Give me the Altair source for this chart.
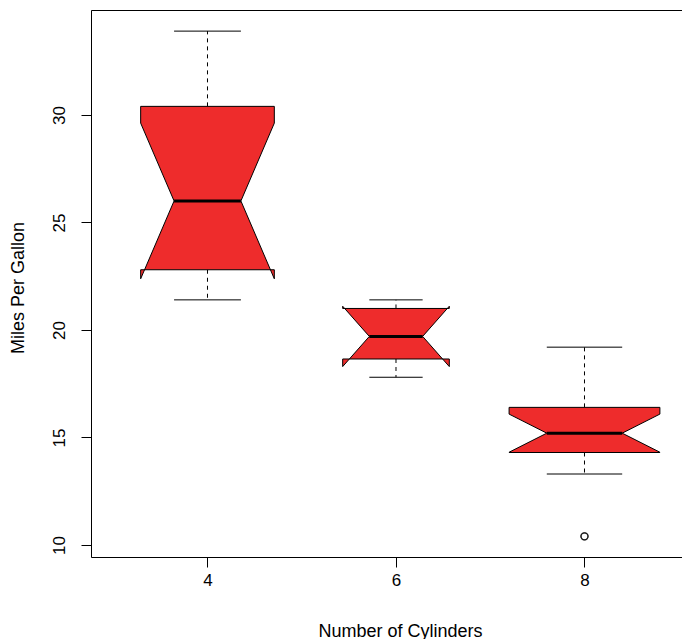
import altair as alt
import numpy as np
import pandas as pd

# mtcars mpg grouped by number of cylinders
cylinders = [4, 6, 8]
mpg_4 = [22.8, 24.4, 22.8, 32.4, 30.4, 33.9, 21.5, 27.3, 26.0, 30.4, 21.4]
mpg_6 = [21.0, 21.0, 21.4, 18.1, 19.2, 17.8, 19.7]
mpg_8 = [18.7, 14.3, 16.4, 17.3, 15.2, 10.4, 10.4, 14.7, 15.5, 15.2, 13.3, 19.2, 15.8, 15.0]
groups = [mpg_4, mpg_6, mpg_8]
y_ticks = [10, 15, 20, 25, 30]

RED = "#EE2C2C"
FONT = "Liberation Sans"


def fivenum(v):
    x = sorted(v)
    n = len(x)
    n4 = np.floor((n + 3) / 2) / 2
    d = [1, n4, (n + 1) / 2, n + 1 - n4, n]
    return [0.5 * (x[int(np.floor(i)) - 1] + x[int(np.ceil(i)) - 1]) for i in d]


max_sqrt = max(np.sqrt(len(g)) for g in groups)
poly_rows, whisk_rows, staple_rows, med_rows, out_rows = [], [], [], [], []
for gi, (cyl, vals) in enumerate(zip(cylinders, groups)):
    pos = gi + 1
    s = fivenum(vals)
    iqr = s[3] - s[1]
    lo_f, hi_f = s[1] - 1.5 * iqr, s[3] + 1.5 * iqr
    inside = [v for v in vals if lo_f <= v <= hi_f]
    wlo, whi = min(inside), max(inside)
    outs = [v for v in vals if v < lo_f or v > hi_f]
    conf = (s[2] - 1.58 * iqr / np.sqrt(len(vals)), s[2] + 1.58 * iqr / np.sqrt(len(vals)))
    wid = 0.4 * np.sqrt(len(vals)) / max_sqrt
    nf = 0.5
    xx = [-1, 1, 1, nf, 1, 1, -1, -1, -nf, -1, -1]
    yy = [s[1], s[1], conf[0], s[2], conf[1], s[3], s[3], conf[1], s[2], conf[0], s[1]]
    for k, (a, b) in enumerate(zip(xx, yy)):
        poly_rows.append({"grp": str(cyl), "ord": k, "x": pos + wid * a, "y": b})
    whisk_rows.append({"x": pos, "y": s[1], "y2": wlo})
    whisk_rows.append({"x": pos, "y": s[3], "y2": whi})
    staple_rows.append({"x": pos - 0.5 * wid, "x2": pos + 0.5 * wid, "y": wlo})
    staple_rows.append({"x": pos - 0.5 * wid, "x2": pos + 0.5 * wid, "y": whi})
    med_rows.append({"x": pos - nf * wid, "x2": pos + nf * wid, "y": s[2]})
    for o in outs:
        out_rows.append({"x": pos, "y": o})

poly_df = pd.DataFrame(poly_rows)
whisk_df = pd.DataFrame(whisk_rows)
staple_df = pd.DataFrame(staple_rows)
med_df = pd.DataFrame(med_rows)
out_df = pd.DataFrame(out_rows)

W, H = 591, 547
PXU_X, PXU_Y = 188.5, 21.5
xscale = alt.Scale(domain=[0.382, 0.382 + W / PXU_X], nice=False, zero=False)
yscale = alt.Scale(domain=[9.44, 9.44 + H / PXU_Y], nice=False, zero=False)

label_expr = "[" + ",".join("'%d'" % c for c in cylinders) + "][datum.value - 1]"

x_bottom = alt.Axis(
    orient="bottom", values=[1, 2, 3], labelExpr=label_expr, title="Number of Cylinders",
    grid=False, domain=True, domainColor="black", domainWidth=1,
    ticks=True, tickColor="black", tickSize=10, tickWidth=1,
    labelFont=FONT, labelFontSize=17, labelColor="black", labelPadding=5,
    titleFont=FONT, titleFontSize=18, titleFontWeight="normal", titleColor="black",
    titleX=309, titleY=74, titleBaseline="middle", titleAlign="center",
)
x_top = alt.Axis(
    orient="top", labels=False, ticks=False, title=None, grid=False,
    domain=True, domainColor="black", domainWidth=1,
)
y_axis = alt.Axis(
    values=y_ticks, grid=False, domain=True, domainColor="black", domainWidth=1,
    ticks=True, tickColor="black", tickSize=10, tickWidth=1,
    labelAngle=270, labelFont=FONT, labelFontSize=17, labelColor="black", labelPadding=13,
    title="Miles Per Gallon", titleFont=FONT, titleFontSize=18, titleFontWeight="normal",
    titleColor="black", titleAngle=270, titleX=-73, titleY=H / 2 + 4,
    titleBaseline="middle", titleAlign="center",
)

whiskers = alt.Chart(whisk_df).mark_rule(color="black", strokeWidth=1, strokeDash=[4, 4]).encode(
    x=alt.X("x:Q", scale=xscale, axis=x_bottom),
    y=alt.Y("y:Q", scale=yscale, axis=y_axis),
    y2="y2:Q",
)
staples = alt.Chart(staple_df).mark_rule(color="black", strokeWidth=1).encode(
    x=alt.X("x:Q", scale=xscale, axis=x_top),
    x2="x2:Q",
    y=alt.Y("y:Q", scale=yscale, axis=y_axis),
)
boxes = alt.Chart(poly_df).mark_line(
    fill=RED, stroke="black", strokeWidth=1, interpolate="linear-closed"
).encode(
    x=alt.X("x:Q", scale=xscale, axis=None),
    y=alt.Y("y:Q", scale=yscale, axis=y_axis),
    detail="grp:N",
    order="ord:Q",
)
medians = alt.Chart(med_df).mark_rule(color="black", strokeWidth=3).encode(
    x=alt.X("x:Q", scale=xscale, axis=None),
    x2="x2:Q",
    y=alt.Y("y:Q", scale=yscale, axis=y_axis),
)
outliers = alt.Chart(out_df).mark_point(
    shape="circle", size=50, filled=False, color="black", strokeWidth=1.3
).encode(
    x=alt.X("x:Q", scale=xscale, axis=None),
    y=alt.Y("y:Q", scale=yscale, axis=y_axis),
)

chart = alt.layer(whiskers, staples, boxes, medians, outliers).resolve_axis(
    x="independent"
).properties(
    width=W, height=H,
    autosize=alt.AutoSizeParams(type="none"),
    padding={"left": 83, "top": 2, "right": 0, "bottom": 82},
).configure_view(stroke=None).configure(background="white")

chart.save("out.html", embed_options={"renderer": "svg", "actions": False})
